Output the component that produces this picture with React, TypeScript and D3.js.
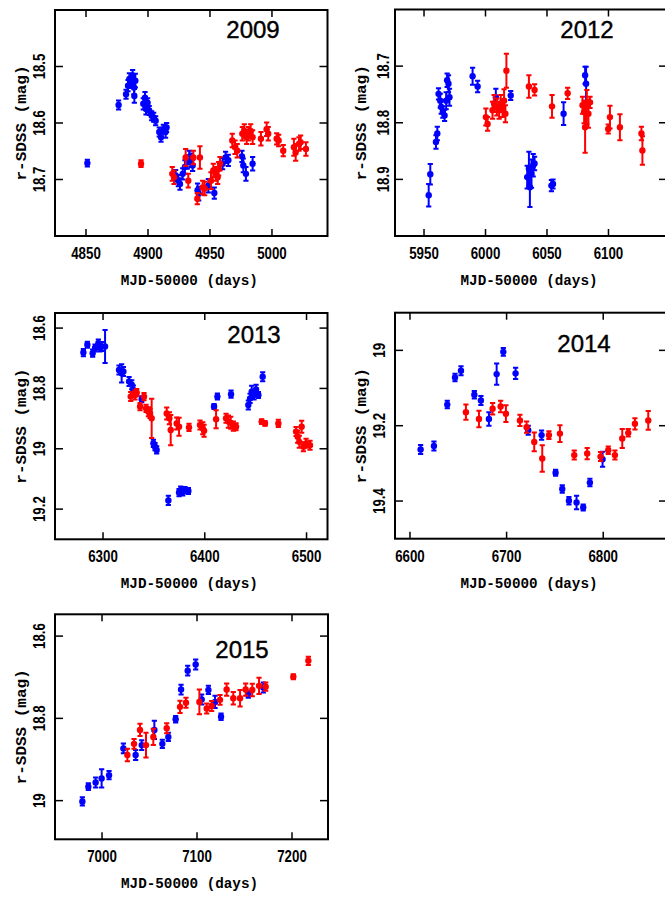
import React from 'react';
import * as d3 from 'd3';

// [MJD-50000, r mag, error]
const blue2009 = [
  [4851.1, 18.671, 0.006], [4876.3, 18.568, 0.008], [4882.3, 18.549, 0.008], [4883.9, 18.534, 0.01],
  [4885.0, 18.522, 0.01], [4886.3, 18.528, 0.01], [4887.6, 18.516, 0.01], [4888.7, 18.537, 0.012],
  [4889.0, 18.552, 0.012], [4889.8, 18.525, 0.012], [4896.2, 18.566, 0.01], [4897.6, 18.555, 0.01],
  [4898.4, 18.575, 0.01], [4899.7, 18.564, 0.008], [4901.0, 18.578, 0.008], [4903.0, 18.587, 0.008],
  [4904.6, 18.590, 0.008], [4906.2, 18.596, 0.008], [4909.1, 18.616, 0.008], [4910.5, 18.625, 0.008],
  [4912.4, 18.611, 0.008], [4914.2, 18.616, 0.01], [4915.0, 18.608, 0.008], [4922.3, 18.693, 0.01],
  [4924.5, 18.702, 0.01], [4925.8, 18.708, 0.01], [4928.0, 18.690, 0.01], [4929.8, 18.678, 0.012],
  [4931.7, 18.669, 0.012], [4933.3, 18.661, 0.012], [4934.7, 18.666, 0.012], [4936.0, 18.675, 0.01],
  [4940.0, 18.719, 0.012], [4940.9, 18.725, 0.012], [4948.7, 18.711, 0.012], [4953.5, 18.724, 0.01],
  [4960.2, 18.672, 0.01], [4962.6, 18.661, 0.01], [4964.8, 18.666, 0.01], [4975.8, 18.659, 0.01],
  [4976.9, 18.675, 0.012], [4979.0, 18.690, 0.012], [4984.4, 18.672, 0.012],
];
const red2009 = [
  [4894.4, 18.672, 0.006], [4919.6, 18.690, 0.012], [4921.0, 18.696, 0.012], [4930.4, 18.661, 0.015],
  [4932.5, 18.702, 0.012], [4936.6, 18.661, 0.012], [4939.8, 18.734, 0.01], [4941.9, 18.661, 0.02],
  [4944.1, 18.714, 0.012], [4945.7, 18.716, 0.012], [4950.8, 18.702, 0.015], [4952.7, 18.684, 0.012],
  [4954.8, 18.690, 0.012], [4956.2, 18.696, 0.012], [4957.0, 18.681, 0.012], [4958.1, 18.672, 0.012],
  [4968.0, 18.631, 0.012], [4970.2, 18.643, 0.012], [4972.0, 18.649, 0.012], [4976.1, 18.619, 0.012],
  [4977.7, 18.614, 0.012], [4979.6, 18.625, 0.012], [4980.9, 18.619, 0.012], [4982.8, 18.614, 0.012],
  [4984.4, 18.625, 0.012], [4991.1, 18.628, 0.012], [4995.7, 18.611, 0.012], [4997.0, 18.619, 0.012],
  [5003.8, 18.628, 0.01], [5005.4, 18.631, 0.01], [5009.1, 18.649, 0.01], [5017.7, 18.643, 0.015],
  [5019.1, 18.652, 0.015], [5021.8, 18.637, 0.012], [5023.1, 18.634, 0.012], [5027.4, 18.646, 0.012],
];

const blue2012 = [
  [5953.8, 18.928, 0.02], [5955.1, 18.891, 0.018], [5959.7, 18.834, 0.012], [5960.8, 18.819, 0.012],
  [5961.8, 18.749, 0.01], [5963.2, 18.761, 0.012], [5964.0, 18.772, 0.012], [5965.3, 18.781, 0.01],
  [5966.7, 18.787, 0.01], [5968.0, 18.761, 0.015], [5968.8, 18.725, 0.012], [5969.9, 18.731, 0.015],
  [5970.7, 18.755, 0.015], [5989.5, 18.718, 0.015], [5993.6, 18.736, 0.01], [6008.4, 18.755, 0.015],
  [6020.5, 18.752, 0.008], [6033.9, 18.896, 0.02], [6035.3, 18.881, 0.03], [6036.1, 18.914, 0.035],
  [6037.4, 18.890, 0.025], [6038.8, 18.875, 0.02], [6039.9, 18.872, 0.012], [6053.6, 18.911, 0.01],
  [6054.9, 18.908, 0.008], [6063.5, 18.784, 0.02], [6081.0, 18.716, 0.015], [6081.8, 18.731, 0.03],
];
const red2012 = [
  [6000.3, 18.790, 0.015], [6001.7, 18.802, 0.012], [6005.7, 18.778, 0.015], [6007.0, 18.766, 0.015],
  [6009.2, 18.772, 0.015], [6011.1, 18.778, 0.015], [6012.4, 18.766, 0.015], [6013.8, 18.775, 0.015],
  [6015.1, 18.761, 0.02], [6016.2, 18.784, 0.015], [6017.0, 18.708, 0.03], [6035.3, 18.736, 0.02],
  [6039.9, 18.742, 0.01], [6054.1, 18.771, 0.02], [6066.8, 18.748, 0.01], [6078.9, 18.769, 0.015],
  [6080.2, 18.781, 0.02], [6081.0, 18.808, 0.045], [6082.4, 18.772, 0.03], [6083.7, 18.784, 0.025],
  [6085.0, 18.764, 0.01], [6099.8, 18.811, 0.008], [6101.2, 18.790, 0.02], [6109.3, 18.808, 0.023],
  [6126.8, 18.819, 0.012], [6127.6, 18.849, 0.025],
];

const blue2013 = [
  [6280.7, 18.681, 0.012], [6284.6, 18.655, 0.01], [6289.8, 18.683, 0.012], [6292.2, 18.666, 0.012],
  [6295.4, 18.650, 0.012], [6297.0, 18.666, 0.012], [6298.7, 18.661, 0.015], [6302.0, 18.661, 0.055],
  [6315.7, 18.739, 0.015], [6318.3, 18.750, 0.03], [6320.0, 18.744, 0.015], [6325.6, 18.777, 0.015],
  [6328.2, 18.788, 0.015], [6329.8, 18.805, 0.015], [6338.0, 18.836, 0.01], [6349.5, 18.982, 0.012],
  [6351.1, 18.993, 0.012], [6352.7, 19.004, 0.012], [6364.2, 19.171, 0.015], [6374.7, 19.145, 0.012],
  [6376.3, 19.137, 0.012], [6378.3, 19.143, 0.012], [6380.6, 19.137, 0.01], [6383.9, 19.140, 0.01],
  [6409.1, 18.860, 0.008], [6412.4, 18.827, 0.01], [6425.8, 18.819, 0.012], [6442.8, 18.855, 0.015],
  [6444.5, 18.833, 0.015], [6446.1, 18.811, 0.02], [6448.4, 18.822, 0.015], [6450.4, 18.803, 0.015],
  [6452.7, 18.822, 0.01], [6456.9, 18.761, 0.015],
];
const red2013 = [
  [6327.2, 18.827, 0.015], [6331.4, 18.822, 0.015], [6333.1, 18.814, 0.012], [6336.4, 18.860, 0.012],
  [6340.3, 18.827, 0.012], [6342.3, 18.866, 0.012], [6344.6, 18.877, 0.015], [6346.2, 18.883, 0.015],
  [6347.8, 18.899, 0.065], [6362.6, 18.883, 0.02], [6365.2, 18.899, 0.02], [6366.5, 18.938, 0.05],
  [6372.4, 18.916, 0.02], [6374.7, 18.927, 0.03], [6384.5, 18.929, 0.012], [6395.3, 18.921, 0.015],
  [6398.0, 18.932, 0.02], [6399.3, 18.940, 0.02], [6411.1, 18.902, 0.03], [6420.9, 18.899, 0.015],
  [6423.2, 18.910, 0.02], [6425.5, 18.914, 0.02], [6428.1, 18.925, 0.015], [6430.7, 18.927, 0.012],
  [6455.9, 18.910, 0.008], [6459.2, 18.916, 0.008], [6472.3, 18.916, 0.012], [6489.7, 18.943, 0.015],
  [6491.3, 18.960, 0.02], [6492.9, 18.977, 0.02], [6495.2, 18.927, 0.02], [6496.9, 18.993, 0.015],
  [6499.5, 18.982, 0.015], [6503.4, 18.988, 0.015],
];

const blue2014 = [
  [6611.0, 19.263, 0.012], [6624.8, 19.254, 0.012], [6638.6, 19.144, 0.01], [6646.6, 19.072, 0.01],
  [6652.8, 19.054, 0.012], [6666.6, 19.118, 0.01], [6673.4, 19.133, 0.012], [6681.7, 19.182, 0.018],
  [6689.7, 19.063, 0.028], [6696.6, 19.004, 0.01], [6709.3, 19.061, 0.015], [6722.4, 19.212, 0.012],
  [6736.2, 19.225, 0.012], [6750.7, 19.325, 0.008], [6757.6, 19.368, 0.01], [6764.5, 19.399, 0.01],
  [6772.4, 19.404, 0.018], [6779.3, 19.417, 0.008], [6786.2, 19.351, 0.01], [6799.3, 19.289, 0.02],
];
const red2014 = [
  [6657.9, 19.164, 0.02], [6671.4, 19.182, 0.022], [6685.5, 19.155, 0.015], [6693.8, 19.149, 0.015],
  [6699.3, 19.168, 0.022], [6713.8, 19.186, 0.015], [6720.7, 19.204, 0.015], [6728.6, 19.243, 0.025],
  [6736.9, 19.287, 0.035], [6743.8, 19.225, 0.01], [6755.2, 19.221, 0.022], [6770.0, 19.278, 0.012],
  [6783.4, 19.274, 0.015], [6797.2, 19.282, 0.012], [6805.2, 19.265, 0.01], [6812.1, 19.278, 0.012],
  [6819.7, 19.234, 0.025], [6825.9, 19.219, 0.01], [6832.8, 19.195, 0.015], [6846.6, 19.186, 0.025],
];

const blue2015 = [
  [6979.3, 19.002, 0.01], [6985.6, 18.966, 0.008], [6993.3, 18.956, 0.012], [6999.6, 18.946, 0.022],
  [7007.4, 18.938, 0.01], [7022.5, 18.873, 0.012], [7035.4, 18.889, 0.012], [7041.8, 18.865, 0.012],
  [7055.1, 18.828, 0.022], [7063.5, 18.862, 0.01], [7069.8, 18.845, 0.01], [7077.5, 18.802, 0.008],
  [7083.2, 18.730, 0.012], [7090.2, 18.684, 0.012], [7098.6, 18.669, 0.012], [7104.9, 18.754, 0.012],
  [7112.0, 18.731, 0.01], [7119.0, 18.760, 0.015], [7125.3, 18.796, 0.008], [7154.0, 18.742, 0.008],
  [7169.8, 18.725, 0.012],
];
const red2015 = [
  [7026.7, 18.889, 0.015], [7033.7, 18.862, 0.012], [7040.0, 18.828, 0.015], [7046.3, 18.865, 0.03],
  [7054.0, 18.845, 0.02], [7068.1, 18.824, 0.012], [7082.1, 18.772, 0.015], [7088.4, 18.762, 0.012],
  [7102.5, 18.760, 0.03], [7110.2, 18.776, 0.012], [7115.4, 18.770, 0.012], [7124.2, 18.755, 0.012],
  [7131.2, 18.730, 0.015], [7138.2, 18.751, 0.015], [7145.3, 18.751, 0.02], [7151.2, 18.730, 0.015],
  [7158.2, 18.731, 0.015], [7165.3, 18.721, 0.02], [7172.3, 18.723, 0.01], [7201.4, 18.699, 0.006],
  [7217.2, 18.660, 0.01],
];

const xTicks2009 = [4850, 4900, 4950, 5000];
const yTicks2009 = [18.5, 18.6, 18.7];
const xTicks2012 = [5950, 6000, 6050, 6100];
const yTicks2012 = [18.7, 18.8, 18.9];
const xTicks2013 = [6300, 6400, 6500];
const yTicks2013 = [18.6, 18.8, 19, 19.2];
const xTicks2014 = [6600, 6700, 6800];
const yTicks2014 = [19, 19.2, 19.4];
const xTicks2015 = [7000, 7100, 7200];
const yTicks2015 = [18.6, 18.8, 19];

const BLUE = '#0000ff';
const RED = '#ff0000';

const panels = [
  { year: '2009', left: 55, top: 10, width: 272.5, height: 226, xDomain: [4825, 5044.8], yDomain: [18.4, 18.8],
    xTicks: xTicks2009, yTicks: yTicks2009, blue: blue2009, red: red2009, yearX: 253, yearY: 38, labGap: 10 },
  { year: '2012', left: 395, top: 9.5, width: 272, height: 226.5, xDomain: [5926.4, 6147.6], yDomain: [18.6, 19.0],
    xTicks: xTicks2012, yTicks: yTicks2012, blue: blue2012, red: red2012, yearX: 587, yearY: 38, labGap: 6 },
  { year: '2013', left: 55, top: 313, width: 272.5, height: 226.3, xDomain: [6252.8, 6520.6], yDomain: [18.55, 19.3],
    xTicks: xTicks2013, yTicks: yTicks2013, blue: blue2013, red: red2013, yearX: 254, yearY: 343, labGap: 10 },
  { year: '2014', left: 395, top: 312.7, width: 272, height: 226, xDomain: [6584.5, 6866], yDomain: [18.9, 19.5],
    xTicks: xTicks2014, yTicks: yTicks2014, blue: blue2014, red: red2014, yearX: 584, yearY: 352, labGap: 10 },
  { year: '2015', left: 55, top: 614.3, width: 273, height: 225, xDomain: [6950.5, 7237.9], yDomain: [18.547, 19.094],
    xTicks: xTicks2015, yTicks: yTicks2015, blue: blue2015, red: red2015, yearX: 242, yearY: 658, labGap: 10 },
];

const tickFont = { fontFamily: 'Liberation Sans, Arial, sans-serif', fontWeight: 700, fontSize: 17 };
const titleFont = { fontFamily: 'Liberation Mono, DejaVu Sans Mono, monospace', fontWeight: 700 };

// width the squeezed tick labels take
const labelLen = (s: string) => s.split('').reduce((a, c) => a + (c === '.' ? 3.5 : 7.4), 0);
const fmt = (v: number) => String(+v.toFixed(1));

function Points({ data, x, y, color }: any) {
  return (
    <g>
      {data.map((d: number[], i: number) => {
        const cx = x(d[0]);
        const y1 = y(d[1] - d[2]);
        const y2 = y(d[1] + d[2]);
        return (
          <g key={i} stroke={color} strokeWidth={2}>
            <line x1={cx} x2={cx} y1={y1} y2={y2} />
            <line x1={cx - 2.6} x2={cx + 2.6} y1={y1} y2={y1} />
            <line x1={cx - 2.6} x2={cx + 2.6} y1={y2} y2={y2} />
            <circle cx={cx} cy={y(d[1])} r={3.2} fill={color} stroke="none" />
          </g>
        );
      })}
    </g>
  );
}

function Panel({ p }: any) {
  const x = d3.scaleLinear().domain(p.xDomain).range([p.left, p.left + p.width]);
  const y = d3.scaleLinear().domain(p.yDomain).range([p.top, p.top + p.height]);
  const right = p.left + p.width;
  const bottom = p.top + p.height;

  return (
    <g>
      <defs>
        <clipPath id={'clip' + p.year}>
          <rect x={p.left} y={p.top} width={p.width} height={p.height} />
        </clipPath>
      </defs>
      <g clipPath={`url(#clip${p.year})`}>
        <Points data={p.blue} x={x} y={y} color={BLUE} />
        <Points data={p.red} x={x} y={y} color={RED} />
      </g>

      <rect x={p.left} y={p.top} width={p.width} height={p.height} fill="none" stroke="#000" strokeWidth={2} />

      {p.xTicks.map((t: number) => (
        <g key={'x' + t}>
          <line x1={x(t)} x2={x(t)} y1={bottom} y2={bottom - 7} stroke="#000" strokeWidth={1.5} />
          <line x1={x(t)} x2={x(t)} y1={p.top} y2={p.top + 7} stroke="#000" strokeWidth={1.5} />
          <text x={x(t)} y={bottom + 23} textAnchor="middle" {...tickFont}
            textLength={labelLen(String(t))} lengthAdjust="spacingAndGlyphs">{t}</text>
        </g>
      ))}

      {p.yTicks.map((t: number) => (
        <g key={'y' + t}>
          <line x1={p.left} x2={p.left + 8} y1={y(t)} y2={y(t)} stroke="#000" strokeWidth={1.5} />
          <line x1={right} x2={right - 8} y1={y(t)} y2={y(t)} stroke="#000" strokeWidth={1.5} />
          <text transform={`translate(${p.left - p.labGap},${y(t)}) rotate(-90)`} textAnchor="middle" {...tickFont}
            textLength={labelLen(fmt(t))} lengthAdjust="spacingAndGlyphs">{fmt(t)}</text>
        </g>
      ))}

      <text x={(p.left + right) / 2 - 2} y={bottom + 49} textAnchor="middle" fontSize={14} {...titleFont}
        textLength={137} lengthAdjust="spacingAndGlyphs">MJD-50000 (days)</text>
      <text transform={`translate(${p.left - 29},${(p.top + bottom) / 2}) rotate(-90)`} textAnchor="middle"
        fontSize={15} {...titleFont} textLength={115} lengthAdjust="spacingAndGlyphs">r-SDSS (mag)</text>

      <text x={p.yearX} y={p.yearY} textAnchor="middle" fontFamily="Liberation Sans, Arial, sans-serif"
        fontSize={24} stroke="#000" strokeWidth={0.4}>{p.year}</text>
    </g>
  );
}

export default function App() {
  return (
    <svg width={665} height={897} style={{ position: 'absolute', left: 0, top: 0, background: '#fff' }}>
      <rect width={665} height={897} fill="#fff" />
      {panels.map((p) => <Panel key={p.year} p={p} />)}
    </svg>
  );
}
